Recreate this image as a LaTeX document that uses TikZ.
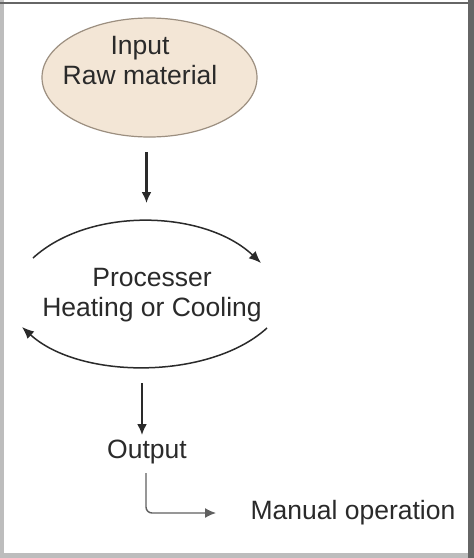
\documentclass[tikz,border=0pt]{standalone}
\usepackage{fontspec}
\setmainfont{Liberation Sans}
\usetikzlibrary{shapes.geometric,arrows.meta}
\definecolor{beige}{HTML}{F3E6D6}
\definecolor{beigeedge}{HTML}{9C8F80}
\definecolor{ink}{HTML}{2A2A2A}
\definecolor{lightframe}{HTML}{BDBDBD}
\definecolor{darkframe}{HTML}{666666}
\tikzset{
  txt/.style={font=\fontsize{26.5}{30}\selectfont, text=ink, align=center, inner sep=0pt},
  arr/.style={draw=ink, line width=2.1pt, -{Latex[length=11pt,width=10pt]}},
  arcarr/.style={draw=ink, line width=1.5pt, -{Latex[length=12pt,width=10pt]}},
  thinarr/.style={draw=gray!75!black, line width=1.4pt, rounded corners=6pt, -{Latex[length=11pt,width=10pt]}},
}
\begin{document}
\begin{tikzpicture}[x=1pt,y=-1pt]
\useasboundingbox (0,0) rectangle (474,558);
% frame
\fill[white] (0,0) rectangle (474,558);
\fill[lightframe] (0,0) rectangle (3.5,558);
\fill[darkframe] (0,1.5) rectangle (474,3.5);
\fill[darkframe] (468,0) rectangle (474,558);
\fill[lightframe] (0,553) rectangle (468,558);
% input ellipse
\node[ellipse, draw=beigeedge, fill=beige, line width=1.2pt, minimum width=215pt, minimum height=119pt, inner sep=0pt] (input) at (149.5,77.5) {};
\node[txt] (inputtext) at (140,61) {Input\\Raw material};
% arrow to processor
\coordinate (a1s) at (146.5,152);
\coordinate (a1e) at (146.5,203);
\draw[arr] (a1s) -- (a1e);
% processor
\node[txt] (proc) at (152,295) {Processer\\Heating or Cooling};
\coordinate (topL) at (33,258);
\coordinate (topR) at (261,263);
\coordinate (botR) at (267,328);
\coordinate (botL) at (22,327);
\draw[arcarr] (topL) .. controls (90,206) and (205,210) .. (topR);
\draw[arcarr] (botR) .. controls (210,380) and (80,380) .. (botL);
% arrow to output
\coordinate (a2s) at (142,383);
\coordinate (a2e) at (142,435);
\draw[arr] (a2s) -- (a2e);
\node[txt] (output) at (147,452) {Output};
% bent arrow to manual operation
\coordinate (b1) at (146,473);
\coordinate (b2) at (146,513);
\coordinate (b3) at (216,513);
\draw[thinarr] (b1) -- (b2) -- (b3);
\node[txt] (manual) at (353,513) {Manual operation};
\end{tikzpicture}
\end{document}
